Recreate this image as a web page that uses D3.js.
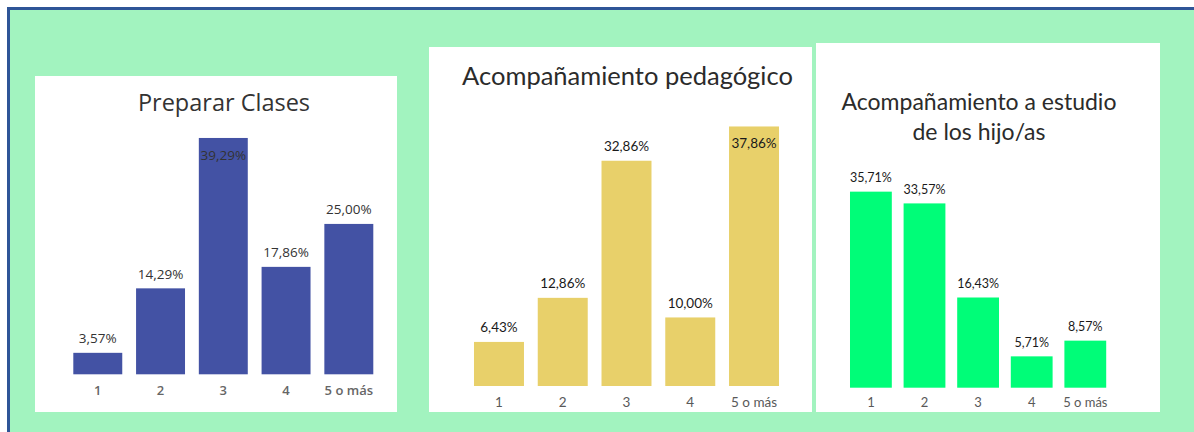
<!DOCTYPE html>
<html>
<head>
  <meta charset="utf-8">
  <title>Uso del tiempo</title>
  <style>
    body { margin: 0; background: #fff; }
  </style>
</head>
<body>
  <svg id="chart"></svg>

  <script src="https://d3js.org/d3.v7.min.js"></script>
  <script>
    // data
    const categories = ["1", "2", "3", "4", "5 o más"];
    const preparar = [3.57, 14.29, 39.29, 17.86, 25.00];
    const pedagogico = [6.43, 12.86, 32.86, 10.00, 37.86];
    const hijos = [35.71, 33.57, 16.43, 5.71, 8.57];

    const W = 1194, H = 432;
    const fmt = d3.formatLocale({ decimal: ",", thousands: ".", grouping: [3], currency: ["", ""] }).format(".2f");

    const svg = d3.select("#chart").attr("width", W).attr("height", H);

    // green frame
    svg.append("rect")
      .attr("x", 8.5).attr("y", 8.5)
      .attr("width", W + 20).attr("height", H + 20)
      .attr("fill", "#a2f3bf")
      .attr("stroke", "#2f5597")
      .attr("stroke-width", 3);

    const panels = [
      {
        values: preparar, box: [35, 76, 362, 336],
        xRange: [66.4, 380.2], pad: 0.22, y0: 374.3, y40: 133.7,
        color: "#4352a4", font: "'Open Sans', sans-serif", labelColor: "#333",
        labelSize: 13.5, axisSize: 13, axisColor: "#666", axisWeight: 600, axisPad: 11,
        title: ["Preparar Clases"], titleX: 224, titleY: 110.7, titleSize: 23.5,
        titleColor: "#333", titleWeight: 400,
        inside: "3"
      },
      {
        values: pedagogico, box: [429, 47, 383, 365],
        xRange: [467.1, 785.9], pad: 0.216, y0: 386, y40: 111.8,
        color: "#e8d06a", font: "Lato, sans-serif", labelColor: "#1a1a1a",
        labelSize: 13.5, axisSize: 13.5, axisColor: "#595959", axisWeight: 400, axisPad: 11,
        title: ["Acompañamiento pedagógico"], titleX: 627.5, titleY: 85, titleSize: 25.5,
        titleColor: "#2b2b2b", titleWeight: 400,
        inside: "5 o más"
      },
      {
        values: hijos, box: [816, 43, 344, 369],
        xRange: [844.1, 1112.1], pad: 0.22, y0: 387.7, y40: 168.1,
        color: "#00fd78", font: "Lato, sans-serif", labelColor: "#1a1a1a",
        labelSize: 12.5, axisSize: 13, axisColor: "#595959", axisWeight: 400, axisPad: 10.5,
        title: ["Acompañamiento a estudio", "de los hijo/as"], titleX: 979, titleY: 110, titleSize: 23,
        titleColor: "#2b2b2b", titleWeight: 400,
        inside: null
      }
    ];

    panels.forEach(p => {
      const g = svg.append("g");
      const data = categories.map((c, i) => ({ cat: c, value: p.values[i] }));

      g.append("rect")
        .attr("x", p.box[0]).attr("y", p.box[1])
        .attr("width", p.box[2]).attr("height", p.box[3])
        .attr("fill", "#fff");

      const x = d3.scaleBand()
        .domain(categories)
        .range(p.xRange)
        .paddingInner(p.pad)
        .paddingOuter(p.pad / 2);

      const y = d3.scaleLinear()
        .domain([0, 40])
        .range([p.y0, p.y40]);

      g.selectAll("rect.bar")
        .data(data)
        .join("rect")
        .attr("class", "bar")
        .attr("x", d => x(d.cat))
        .attr("y", d => y(d.value))
        .attr("width", x.bandwidth())
        .attr("height", d => y(0) - y(d.value))
        .attr("fill", p.color);

      g.selectAll("text.val")
        .data(data)
        .join("text")
        .attr("class", "val")
        .attr("x", d => x(d.cat) + x.bandwidth() / 2)
        .attr("y", d => d.cat === p.inside ? y(d.value) + 22 : y(d.value) - 9.5)
        .attr("text-anchor", "middle")
        .attr("font-family", p.font)
        .attr("font-size", p.labelSize)
        .attr("fill", p.labelColor)
        .text(d => fmt(d.value) + "%");

      const axis = g.append("g")
        .attr("transform", `translate(0,${p.y0})`)
        .call(d3.axisBottom(x).tickSize(0).tickPadding(p.axisPad));
      axis.select(".domain").remove();
      axis.selectAll("text")
        .attr("font-family", p.font)
        .attr("font-size", p.axisSize)
        .attr("font-weight", p.axisWeight)
        .attr("fill", p.axisColor);

      g.selectAll("text.title")
        .data(p.title)
        .join("text")
        .attr("class", "title")
        .attr("x", p.titleX)
        .attr("y", (d, i) => p.titleY + i * 30)
        .attr("text-anchor", "middle")
        .attr("font-family", p.font)
        .attr("font-size", p.titleSize)
        .attr("font-weight", p.titleWeight)
        .attr("fill", p.titleColor)
        .text(d => d);
    });
  </script>
</body>
</html>
